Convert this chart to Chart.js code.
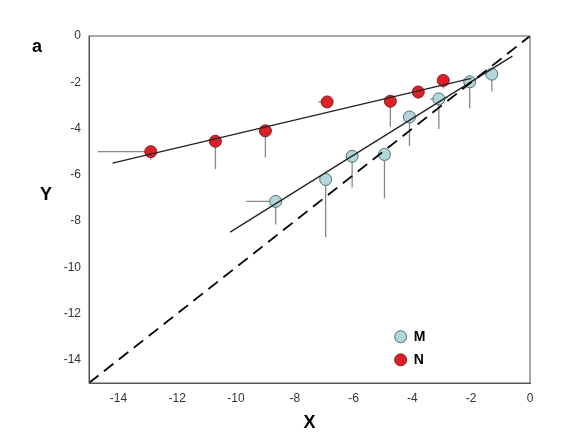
<!DOCTYPE html><html><head><script src="https://cdn.jsdelivr.net/npm/chart.js@4"></script>
<style>body{margin:0;background:#fff}#w{width:581px;height:443px;position:relative}</style></head><body><div id="w"><canvas id="c"></canvas></div>
<script>
const nX=[-12.9,-10.7,-9.0,-6.9,-4.75,-3.8,-2.95];
const nY=[-5.0,-4.55,-4.1,-2.85,-2.82,-2.42,-1.92];
const nErrX=[1.8,0,0,0.3,0,0.2,0];
const nErrY=[0.35,1.2,1.15,0,1.1,0.3,0.35];
const mX=[-8.65,-6.95,-6.05,-4.95,-4.1,-3.1,-2.05,-1.3];
const mY=[-7.15,-6.2,-5.2,-5.12,-3.5,-2.72,-1.98,-1.65];
const mErrX=[1.0,0,0,0,0,0.3,0,0];
const mErrY=[1.0,2.5,1.35,1.9,1.25,1.3,1.15,0.75];
const nFit=[[-14.2,-5.5],[-2.0,-1.83]];
const mFit=[[-10.2,-8.48],[-0.6,-0.87]];
const diag=[[-15,-15],[0,0]];
const xTicks=[-14,-12,-10,-8,-6,-4,-2,0];
const yTicks=[-14,-12,-10,-8,-6,-4,-2,0];
const pts=(xs,ys)=>xs.map((x,i)=>({x,y:ys[i]}));
const errPlugin={id:'err',beforeDatasetsDraw(ch){const c=ch.ctx,xs=ch.scales.x,ys=ch.scales.y;c.save();c.strokeStyle='#888';c.lineWidth=1.3;
[[nX,nY,nErrX,nErrY],[mX,mY,mErrX,mErrY]].forEach(([X,Y,EX,EY])=>X.forEach((x,i)=>{const px=xs.getPixelForValue(x),py=ys.getPixelForValue(Y[i]);c.beginPath();if(EX[i]){c.moveTo(px,py);c.lineTo(xs.getPixelForValue(x-EX[i]),py);}if(EY[i]){c.moveTo(px,py);c.lineTo(px,ys.getPixelForValue(Y[i]-EY[i]));}c.stroke();}));c.restore();}};
new Chart(document.getElementById('c'),{type:'scatter',data:{datasets:[
{label:'diag',data:diag.map(p=>({x:p[0],y:p[1]})),showLine:true,borderColor:'#000',borderWidth:1.8,borderDash:[12,7],pointRadius:0},
{label:'nfit',data:nFit.map(p=>({x:p[0],y:p[1]})),showLine:true,borderColor:'#222',borderWidth:1.3,pointRadius:0},
{label:'mfit',data:mFit.map(p=>({x:p[0],y:p[1]})),showLine:true,borderColor:'#222',borderWidth:1.3,pointRadius:0},
{label:'M',data:pts(mX,mY),backgroundColor:'#b4d6da',borderColor:'#4a6f75',borderWidth:1,pointRadius:6},
{label:'N',data:pts(nX,nY),backgroundColor:'#dc2028',borderColor:'#8a1a1a',borderWidth:1,pointRadius:6}
]},options:{responsive:true,maintainAspectRatio:false,animation:false,
layout:{padding:{left:0,right:51,top:36,bottom:5}},
plugins:{legend:{display:false},tooltip:{enabled:false}},
scales:{x:{min:-15,max:0,afterBuildTicks:a=>{a.ticks=xTicks.map(v=>({value:v}))},grid:{display:false,drawTicks:true,tickLength:5},border:{color:'#555'},ticks:{color:'#333',font:{family:'Liberation Sans',size:12}},title:{display:true,text:'X',font:{family:'Liberation Sans',size:18,weight:'bold'},color:'#000'}},
y:{min:-15,max:0,afterFit:a=>{a.width=89},afterBuildTicks:a=>{a.ticks=yTicks.map(v=>({value:v}))},grid:{display:false,tickLength:5},border:{color:'#555'},ticks:{color:'#333',font:{family:'Liberation Sans',size:12}},title:{display:false}}}}
,plugins:[errPlugin,{id:'frame',afterDraw(ch){const c=ch.ctx,a=ch.chartArea;c.save();c.strokeStyle='#555';c.lineWidth=1;c.strokeRect(a.left,a.top,a.right-a.left,a.bottom-a.top);
c.fillStyle='#000';c.font='bold 18px Liberation Sans';c.textBaseline='alphabetic';c.fillText('a',32,52);c.fillText('Y',40,200);
const lx=ch.scales.x.getPixelForValue(-4.4);[['M','#b4d6da','#4a6f75',ch.scales.y.getPixelForValue(-13)],['N','#dc2028','#8a1a1a',ch.scales.y.getPixelForValue(-14)]].forEach(([t,f,s,y])=>{c.beginPath();c.arc(lx,y,6,0,Math.PI*2);c.fillStyle=f;c.fill();c.strokeStyle=s;c.stroke();c.fillStyle='#000';c.font='bold 14px Liberation Sans';c.textBaseline='middle';c.fillText(t,lx+13,y);});c.restore();}}]});
</script></body></html>
